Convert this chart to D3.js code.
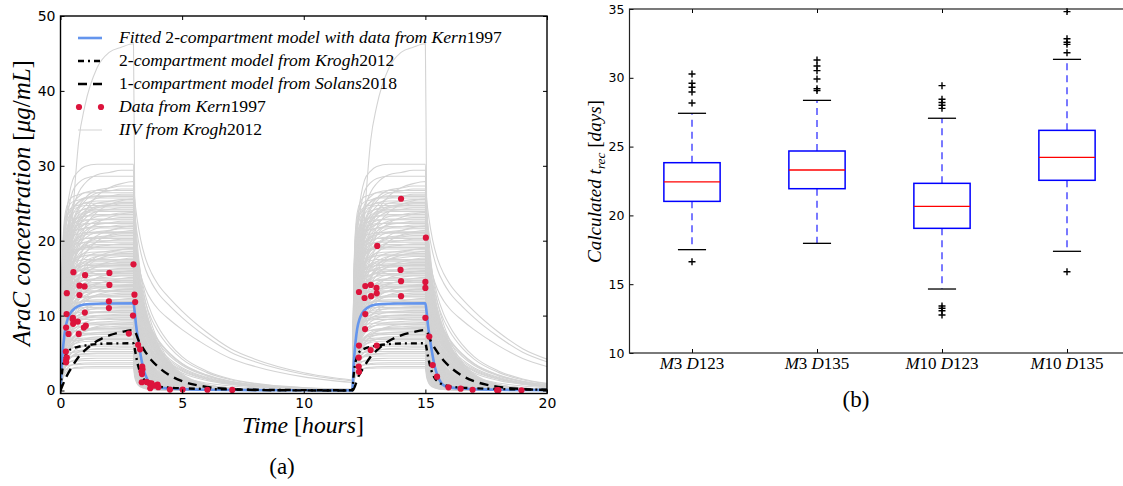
<!DOCTYPE html>
<html>
<head>
<meta charset="utf-8">
<script src="https://cdn.jsdelivr.net/npm/d3@7"></script>
<style>
  body { margin: 0; background: #fff; }
  svg { display: block; }
</style>
</head>
<body>
<svg id="fig" width="1123" height="486"></svg>
<script>
// ---------------- Panel (a): AraC plasma concentration ----------------
// Fitted 2-compartment model (Kern 1997 data), [hours, µg/mL]
const fittedKern1997 = [[0,0],[0.05,3.2],[0.1,5.5],[0.15,7.1],[0.2,8.3],[0.3,9.6],[0.4,10.3],[0.6,11.0],[0.8,11.35],[1.2,11.55],[2,11.62],[3,11.65],[3.05,10.5],[3.1,8.9],[3.2,6.6],[3.3,4.6],[3.4,3.0],[3.5,2.0],[3.65,1.0],[3.8,0.6],[4,0.42],[4.5,0.26],[5,0.18],[6,0.1],[8,0.05],[10,0.03],[12,0.02],
  [12.05,3.2],[12.1,5.5],[12.15,7.1],[12.2,8.3],[12.3,9.6],[12.4,10.3],[12.6,11.0],[12.8,11.35],[13.2,11.55],[14,11.62],[15,11.65],[15.05,10.5],[15.1,8.9],[15.2,6.6],[15.3,4.6],[15.4,3.0],[15.5,2.0],[15.65,1.0],[15.8,0.6],[16,0.42],[16.5,0.26],[17,0.18],[18,0.1],[20,0.05]];

// 2-compartment model from Krogh 2012
const krogh2012 = [[0,0],[0.05,2.0],[0.1,3.3],[0.2,4.6],[0.3,5.2],[0.5,5.6],[0.75,5.85],[1,6.0],[1.5,6.2],[2,6.28],[3,6.3],[3.05,5.6],[3.1,4.7],[3.2,3.2],[3.3,2.2],[3.4,1.6],[3.55,1.1],[3.75,0.75],[4,0.55],[4.5,0.38],[5,0.3],[6,0.2],[8,0.1],[10,0.05],[12,0.03],
  [12.05,2.0],[12.1,3.3],[12.2,4.6],[12.3,5.2],[12.5,5.6],[12.75,5.85],[13,6.0],[13.5,6.2],[14,6.28],[15,6.3],[15.05,5.6],[15.1,4.7],[15.2,3.2],[15.3,2.2],[15.4,1.6],[15.55,1.1],[15.75,0.75],[16,0.55],[16.5,0.38],[17,0.3],[18,0.2],[20,0.1]];

// 1-compartment model from Solans 2018
const solans2018 = [[0,0],[0.25,1.9],[0.5,3.3],[0.75,4.5],[1,5.35],[1.5,6.6],[2,7.35],[2.5,7.8],[3,8.07],[3.25,6.4],[3.5,5.1],[3.75,4.0],[4,3.2],[4.5,2.0],[5,1.25],[5.5,0.78],[6,0.48],[7,0.19],[8,0.07],[9,0.03],[12,0],
  [12.25,1.9],[12.5,3.3],[12.75,4.5],[13,5.35],[13.5,6.6],[14,7.35],[14.5,7.8],[15,8.07],[15.25,6.4],[15.5,5.1],[15.75,4.0],[16,3.2],[16.5,2.0],[17,1.25],[17.5,0.78],[18,0.48],[19,0.19],[20,0.07]];

// Measured concentrations, Kern 1997
const kernTime = [3.0,0.53,1.01,2.01,0.78,0.99,2.01,0.26,0.78,3.04,1.99,3.07,1.99,0.25,1.0,0.51,0.5,0.71,0.52,0.23,1.04,0.96,2.98,0.33,0.75,2.81,0.22,0.26,0.23,0.23,
  3.19,3.27,3.36,3.37,3.33,3.35,3.34,3.54,3.64,3.74,3.84,3.99,4.02,3.69,4.5,5.02,6.04,7.06,
  14.0,15.02,13.02,13.98,14.0,15.0,15.0,12.53,12.76,12.99,12.27,12.5,12.77,13.0,14.0,12.53,15.0,12.52,15.16,12.27,13.0,12.75,12.26,12.26,12.27,15.3,15.48,15.95,16.45,16.94,17.95,18.0,18.95];
const kernConc = [16.85,15.8,15.4,15.7,14.0,13.9,14.1,13.0,12.75,12.8,11.9,11.8,11.0,10.2,10.4,9.7,9.5,9.2,8.9,8.4,8.65,8.4,10.0,7.55,7.55,7.6,5.2,4.4,4.07,3.76,
  6.1,5.5,3.2,2.85,2.55,2.2,1.1,1.15,1.0,0.95,0.65,0.8,0.45,0.3,0.12,0.12,0.1,0.08,
  25.6,20.4,19.3,16.1,14.6,14.5,13.7,13.95,14.1,13.7,13.15,12.35,12.6,12.97,12.6,10.2,9.7,8.2,7.2,6.0,6.0,5.4,4.4,3.2,2.5,3.4,1.85,0.43,0.25,0.1,0.05,0.05,0.03];

// Inter-individual variability (Krogh 2012): per-dose concentration profiles,
// expressed as a fraction of each subject's steady-state level
const iivProfileTimes = [0,0.05,0.1,0.2,0.35,0.5,0.75,1,1.5,2,2.5,3,3.05,3.15,3.3,3.5,3.75,4,4.5,5,6,7,8,10,12];
const iivProfileFast     = [0,0.5,0.75,0.9,0.96,0.98,0.99,1,1,1,1,1,0.6,0.3,0.15,0.08,0.045,0.028,0.013,0.006,0.002,0.001,0,0,0];
const iivProfileModerate = [0,0.3,0.5,0.72,0.86,0.93,0.97,0.99,1,1,1,1,0.75,0.5,0.32,0.2,0.12,0.08,0.04,0.02,0.006,0.002,0.001,0,0];
const iivProfileSlow     = [0,0.2,0.35,0.55,0.72,0.82,0.9,0.94,0.98,0.99,1,1,0.85,0.68,0.52,0.4,0.3,0.23,0.13,0.075,0.028,0.012,0.005,0.001,0];
const iivProfileLongTail = [0,0.14,0.25,0.42,0.58,0.68,0.8,0.87,0.94,0.97,0.99,1,0.9,0.78,0.65,0.53,0.43,0.36,0.26,0.19,0.11,0.065,0.04,0.016,0.007];
const iivProfileSlowRise = [0,0.04,0.08,0.18,0.33,0.5,0.72,0.82,0.93,0.975,0.99,1,0.55,0.25,0.1,0.05,0.03,0.02,0.008,0.004,0.001,0,0,0,0];
const iivProfileVeryLong = [0,0.12,0.22,0.38,0.54,0.65,0.77,0.85,0.93,0.97,0.99,1,0.92,0.82,0.72,0.63,0.56,0.51,0.44,0.38,0.28,0.2,0.15,0.085,0.05];
const iivProfiles = [iivProfileFast, iivProfileModerate, iivProfileSlow, iivProfileLongTail, iivProfileSlowRise, iivProfileVeryLong];
// [steady-state µg/mL, profile index]
const iivSubjects = [[3.0,0],[3.2,1],[3.5,0],[3.7,1],[4.0,0],[4.3,1],[4.6,0],[4.9,1],[5.0,1],[5.2,0],[5.5,1],[5.7,2],[5.9,0],[6.1,1],[6.3,2],[6.6,1],[6.8,0],[6.9,1],[7.0,0],[7.3,2],[7.5,1],[7.7,1],[7.9,2],[8.1,0],[8.3,1],[8.4,2],[8.6,2],[8.8,1],[9.0,0],[9.1,3],[9.3,2],[9.5,0],[9.7,2],[9.8,1],[10.0,1],[10.2,2],[10.4,1],[10.5,0],[10.7,2],[10.9,1],[11.1,0],[11.2,2],[11.4,0],[11.6,1],[11.8,2],[11.9,0],[12.1,1],[12.3,3],[12.5,0],[12.6,1],[12.8,2],[13.0,2],[13.2,1],[13.3,0],[13.5,2],[13.6,3],[13.7,1],[13.9,1],[14.0,2],[14.1,0],[14.2,3],[14.4,1],[14.6,2],[14.7,0],[14.9,1],[15.1,3],[15.3,2],[15.4,1],[15.6,0],[15.8,2],[15.9,1],[16.0,3],[16.1,0],[16.3,2],[16.5,1],[16.7,0],[16.8,2],[16.9,1],[17.1,2],[17.2,1],[17.4,1],[17.5,0],[17.7,3],[17.9,2],[18.0,0],[18.2,1],[18.3,2],[18.5,1],[18.6,3],[18.8,2],[18.9,0],[19.0,3],[19.1,0],[19.3,1],[19.5,1],[19.6,2],[19.8,0],[20.0,1],[20.2,2],[20.3,0],[20.5,1],[20.7,2],[20.9,2],[21.0,1],[21.1,0],[21.2,1],[21.4,5],[21.6,2],[21.7,0],[21.9,1],[22.0,3],[22.1,2],[22.3,0],[22.4,1],[22.6,2],[22.8,0],[22.9,1],[23.1,2],[23.3,0],[23.5,1],[23.7,2],[23.8,3],[23.9,1],[24.1,1],[24.2,0],[24.4,2],[24.5,1],[24.7,0],[24.9,2],[25.0,0],[25.1,2],[25.3,1],[25.5,2],[25.6,5],[25.7,0],[25.9,1],[26.0,1],[26.2,2],[26.4,0],[26.7,1],[26.9,2],[27.3,2],[27.9,5],[28.6,1],[29.4,2],[30.2,1],[46.3,4]];
const doseStarts = [0, 12];

const timeTicks = [0, 5, 10, 15, 20];
const concTicks = [0, 10, 20, 30, 40, 50];
const legendLabels = [
  "Fitted 2-compartment model with data from Kern1997",
  "2-compartment model from Krogh2012",
  "1-compartment model from Solans2018",
  "Data from Kern1997",
  "IIV from Krogh2012"
];

// ---------------- Panel (b): recovery time box plots ----------------
const groups = ["M3 D123", "M3 D135", "M10 D123", "M10 D135"];
const whiskerLow  = [17.51, 17.97, 14.65, 17.39];
const quartile1   = [21.02, 21.94, 19.06, 22.55];
const medians     = [22.43, 23.30, 20.66, 24.22];
const quartile3   = [23.83, 24.68, 22.33, 26.18];
const whiskerHigh = [27.42, 28.36, 27.06, 31.34];
const outliers = [
  [16.63, 28.17, 28.97, 29.31, 29.6, 30.28],
  [29.07, 29.2, 29.91, 30.52, 30.86, 31.29],
  [12.76, 13.07, 13.25, 13.42, 27.78, 28.0, 28.2, 28.44, 29.43],
  [15.91, 31.82, 32.43, 32.58, 32.84, 34.81]
];
const trecTicks = [10, 15, 20, 25, 30, 35];

// ---------------- drawing ----------------
const svg = d3.select("#fig");
svg.append("rect").attr("width", 1123).attr("height", 486).attr("fill", "#fff");
const SERIF = "'Liberation Serif', 'Times New Roman', serif";
const SANS = "'DejaVu Sans', sans-serif";

// letters in italic, digits and punctuation upright (math-style labels)
function mathText(sel, str) {
  const runs = str.match(/[A-Za-zμ]+|[^A-Za-zμ]+/g);
  runs.forEach(r => sel.append("tspan")
    .attr("font-style", /[A-Za-zμ]/.test(r) ? "italic" : "normal")
    .text(r));
  return sel;
}
function fitWidth(sel, target) {
  const w = sel.node().getComputedTextLength();
  const fs = parseFloat(sel.attr("font-size"));
  sel.attr("font-size", (fs * target / w).toFixed(2));
  return fs * target / w;
}

// ---- panel (a) ----
const xA = d3.scaleLinear().domain([0, 20]).range([60.5, 547]);
const yA = d3.scaleLinear().domain([-0.4, 50]).range([393.5, 16]);
const gA = svg.append("g");
gA.append("clipPath").attr("id", "clipA").append("rect")
  .attr("x", xA(0)).attr("y", yA(50)).attr("width", xA(20) - xA(0)).attr("height", yA(-0.4) - yA(50));
const plotA = gA.append("g").attr("clip-path", "url(#clipA)");

const lineA = d3.line().x(d => xA(d[0])).y(d => yA(d[1])).curve(d3.curveMonotoneX);

// IIV curves: one path per dose
const iivG = plotA.append("g");
iivSubjects.forEach(([css, p]) => {
  const prof = iivProfiles[p];
  doseStarts.forEach((t0, k) => {
    const nextStart = k + 1 < doseStarts.length ? doseStarts[k + 1] : 20;
    const pts = [];
    iivProfileTimes.forEach((t, i) => {
      if (t0 + t <= nextStart) pts.push([t0 + t, css * prof[i]]);
    });
    iivG.append("path").attr("d", lineA(pts))
      .attr("fill", "none").attr("stroke", "#d3d3d3").attr("stroke-width", 1.1);
  });
});

plotA.append("path").attr("d", lineA(fittedKern1997))
  .attr("fill", "none").attr("stroke", "#6495ED").attr("stroke-width", 2.6);
plotA.append("path").attr("d", lineA(krogh2012))
  .attr("fill", "none").attr("stroke", "#000").attr("stroke-width", 2.4)
  .attr("stroke-dasharray", "6,4,2,4");
plotA.append("path").attr("d", lineA(solans2018))
  .attr("fill", "none").attr("stroke", "#000").attr("stroke-width", 2.4)
  .attr("stroke-dasharray", "9,6");
plotA.append("g").selectAll("circle").data(kernTime).join("circle")
  .attr("cx", d => xA(d)).attr("cy", (d, i) => yA(kernConc[i]))
  .attr("r", 3.1).attr("fill", "#DC143C");

// axes, ticks inward on all four sides
function styleAxis(g, fs) {
  g.select(".domain").remove();
  g.selectAll("text").attr("font-family", SANS).attr("font-size", fs).attr("fill", "#000");
  g.selectAll("line").attr("stroke", "#000");
}
gA.append("g").attr("transform", `translate(0,${yA(-0.4)})`)
  .call(d3.axisBottom(xA).tickValues(timeTicks).tickSize(-4).tickPadding(5))
  .call(g => styleAxis(g, 14));
gA.append("g").attr("transform", `translate(0,${yA(50)})`)
  .call(d3.axisTop(xA).tickValues(timeTicks).tickSize(-4).tickFormat(""))
  .call(g => styleAxis(g, 14));
gA.append("g").attr("transform", `translate(${xA(0)},0)`)
  .call(d3.axisLeft(yA).tickValues(concTicks).tickSize(-4).tickPadding(5))
  .call(g => styleAxis(g, 14));
gA.append("g").attr("transform", `translate(${xA(20)},0)`)
  .call(d3.axisRight(yA).tickValues(concTicks).tickSize(-4).tickFormat(""))
  .call(g => styleAxis(g, 14));
gA.append("rect").attr("x", xA(0)).attr("y", yA(50))
  .attr("width", xA(20) - xA(0)).attr("height", yA(-0.4) - yA(50))
  .attr("fill", "none").attr("stroke", "#000").attr("stroke-width", 1.4);

// legend
const legY = [38, 61, 84, 107, 130];
const leg = gA.append("g");
leg.append("line").attr("x1", 78).attr("x2", 102).attr("y1", legY[0]).attr("y2", legY[0])
  .attr("stroke", "#6495ED").attr("stroke-width", 2.6);
leg.append("line").attr("x1", 78).attr("x2", 102).attr("y1", legY[1]).attr("y2", legY[1])
  .attr("stroke", "#000").attr("stroke-width", 2.4).attr("stroke-dasharray", "6,4,2,4");
leg.append("line").attr("x1", 78).attr("x2", 102).attr("y1", legY[2]).attr("y2", legY[2])
  .attr("stroke", "#000").attr("stroke-width", 2.4).attr("stroke-dasharray", "9,6");
[79, 101].forEach(cx => leg.append("circle").attr("cx", cx).attr("cy", legY[3]).attr("r", 3.1).attr("fill", "#DC143C"));
leg.append("line").attr("x1", 78).attr("x2", 102).attr("y1", legY[4]).attr("y2", legY[4])
  .attr("stroke", "#d3d3d3").attr("stroke-width", 1);
const legTexts = legendLabels.map((s, i) =>
  mathText(leg.append("text").attr("x", 119).attr("y", legY[i] + 5)
    .attr("font-family", SERIF).attr("font-size", 16).attr("fill", "#000"), s));
const legFs = fitWidth(legTexts[0], 383);
legTexts.forEach(t => t.attr("font-size", legFs.toFixed(2)));

// axis titles
const xTitleA = svg.append("text").attr("x", 303).attr("y", 433).attr("text-anchor", "middle")
  .attr("font-family", SERIF).attr("font-size", 22);
mathText(xTitleA, "Time [hours]");
fitWidth(xTitleA, 122);
const yTitleA = svg.append("text").attr("transform", "translate(30,203) rotate(-90)")
  .attr("text-anchor", "middle").attr("font-family", SERIF).attr("font-size", 22);
mathText(yTitleA, "AraC concentration [μg/mL]");
fitWidth(yTitleA, 286);
svg.append("text").attr("x", 282).attr("y", 474).attr("text-anchor", "middle")
  .attr("font-family", SERIF).attr("font-size", 23).text("(a)");

// ---- panel (b) ----
const xB = d3.scaleLinear().domain([0.5, 4.5]).range([629.5, 1129.5]);
const yB = d3.scaleLinear().domain([10, 35]).range([353, 9]);
const gB = svg.append("g");
const pos = groups.map((g, i) => i + 1);
const boxW = 0.45, capW = 0.225;

gB.append("g").attr("transform", `translate(${xB(0.5)},0)`)
  .call(d3.axisLeft(yB).tickValues(trecTicks).tickSize(-4).tickPadding(5))
  .call(g => styleAxis(g, 12.5));
gB.append("g").attr("transform", `translate(0,${yB(10)})`)
  .call(d3.axisBottom(xB).tickValues(pos).tickSize(-4).tickFormat(""))
  .call(g => styleAxis(g, 12.5));
gB.append("g").attr("transform", `translate(0,${yB(35)})`)
  .call(d3.axisTop(xB).tickValues(pos).tickSize(-4).tickFormat(""))
  .call(g => styleAxis(g, 12.5));

groups.forEach((name, i) => {
  const p = pos[i];
  const bx = gB.append("g");
  // whiskers
  [[quartile1[i], whiskerLow[i]], [quartile3[i], whiskerHigh[i]]].forEach(([a, b]) =>
    bx.append("line").attr("x1", xB(p)).attr("x2", xB(p)).attr("y1", yB(a)).attr("y2", yB(b))
      .attr("stroke", "#4d4dff").attr("stroke-width", 1.5).attr("stroke-dasharray", "7,5"));
  // caps
  [whiskerLow[i], whiskerHigh[i]].forEach(v =>
    bx.append("line").attr("x1", xB(p - capW / 2)).attr("x2", xB(p + capW / 2))
      .attr("y1", yB(v)).attr("y2", yB(v)).attr("stroke", "#000").attr("stroke-width", 1.3));
  // box
  bx.append("rect").attr("x", xB(p - boxW / 2)).attr("y", yB(quartile3[i]))
    .attr("width", xB(p + boxW / 2) - xB(p - boxW / 2)).attr("height", yB(quartile1[i]) - yB(quartile3[i]))
    .attr("fill", "none").attr("stroke", "#0000ff").attr("stroke-width", 1.5);
  // median
  bx.append("line").attr("x1", xB(p - boxW / 2)).attr("x2", xB(p + boxW / 2))
    .attr("y1", yB(medians[i])).attr("y2", yB(medians[i]))
    .attr("stroke", "#ff0000").attr("stroke-width", 1.3);
  // fliers
  outliers[i].forEach(v => {
    const cx = xB(p), cy = yB(v);
    bx.append("path").attr("d", `M${cx - 3.5},${cy}H${cx + 3.5}M${cx},${cy - 3.5}V${cy + 3.5}`)
      .attr("stroke", "#000").attr("stroke-width", 1.4).attr("fill", "none");
  });
  // category label
  const lbl = gB.append("text").attr("x", xB(p)).attr("y", 369).attr("text-anchor", "middle")
    .attr("font-family", SERIF).attr("font-size", 17);
  mathText(lbl, name);
});
// frame (right edge falls outside the canvas)
gB.append("rect").attr("x", xB(0.5)).attr("y", yB(35))
  .attr("width", xB(4.5) - xB(0.5)).attr("height", yB(10) - yB(35))
  .attr("fill", "none").attr("stroke", "#222").attr("stroke-width", 1.2);

const yTitleB = svg.append("text").attr("transform", "translate(601,181.5) rotate(-90)")
  .attr("text-anchor", "middle").attr("font-family", SERIF).attr("font-size", 17);
yTitleB.append("tspan").attr("font-style", "italic").text("Calculated t");
yTitleB.append("tspan").attr("font-style", "italic").attr("font-size", "0.7em").attr("dy", 4).text("rec");
yTitleB.append("tspan").attr("dy", -4).text(" [");
yTitleB.append("tspan").attr("font-style", "italic").text("days");
yTitleB.append("tspan").text("]");
fitWidth(yTitleB, 163);
svg.append("text").attr("x", 856).attr("y", 407).attr("text-anchor", "middle")
  .attr("font-family", SERIF).attr("font-size", 23).text("(b)");
</script>
</body>
</html>
